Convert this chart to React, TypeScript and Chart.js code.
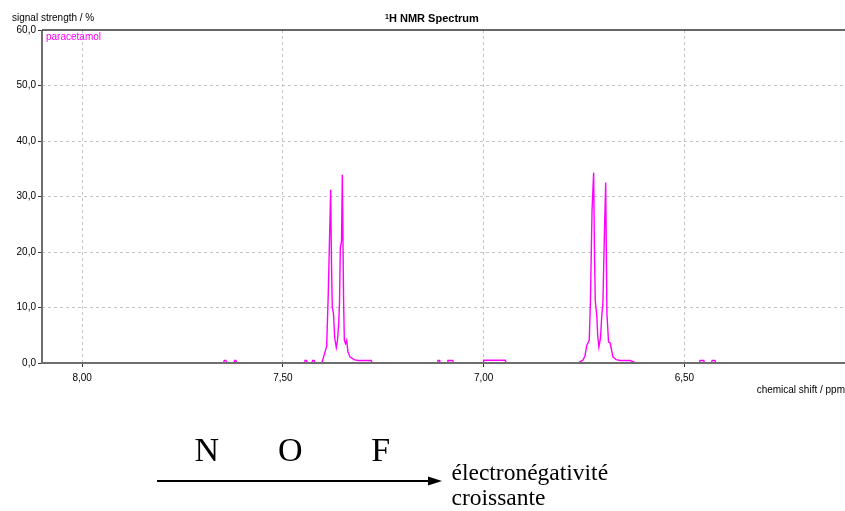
import React, { useEffect, useRef } from 'react';
import { Chart, registerables } from 'chart.js';

Chart.register(...registerables);

// ---- data ----
const shiftPpm = [
  8.100, 7.648, 7.646, 7.642, 7.640, 7.622, 7.620, 7.617, 7.615,
  7.447, 7.445, 7.441, 7.439, 7.428, 7.426, 7.422, 7.420,
  7.403, 7.395, 7.391, 7.387, 7.384, 7.381, 7.379, 7.377, 7.374, 7.371, 7.367,
  7.364, 7.361, 7.359, 7.357, 7.354, 7.352, 7.349, 7.347, 7.344, 7.341, 7.338,
  7.333, 7.323, 7.313, 7.303, 7.280, 7.278,
  7.116, 7.114, 7.110, 7.108, 7.091, 7.089, 7.077, 7.075,
  7.001, 7.000, 6.946, 6.944,
  6.765, 6.753, 6.748, 6.743, 6.737, 6.734, 6.730, 6.726, 6.724, 6.722, 6.718,
  6.716, 6.713, 6.709, 6.706, 6.703, 6.699, 6.696, 6.693, 6.689, 6.685, 6.678,
  6.670, 6.660, 6.635, 6.621,
  6.463, 6.461, 6.452, 6.450, 6.433, 6.431, 6.424, 6.422, 6.100,
];
const signalPct = [
  0, 0, 0.45, 0.45, 0, 0, 0.45, 0.45, 0,
  0, 0.45, 0.45, 0, 0, 0.45, 0.45, 0,
  0, 2.0, 3.0, 12.5, 22.0, 31.2, 18.0, 10.1, 8.9, 4.5, 2.8,
  4.1, 7.2, 10.8, 20.7, 22.0, 33.9, 12.0, 4.1, 3.5, 4.1, 2.0,
  1.1, 0.6, 0.45, 0.45, 0.45, 0,
  0, 0.45, 0.45, 0, 0, 0.45, 0.45, 0,
  0, 0.5, 0.5, 0,
  0, 0.5, 1.2, 3.2, 4.1, 11.3, 27.6, 34.3, 20.0, 11.3, 8.3,
  5.0, 2.9, 4.5, 8.3, 10.8, 24.0, 32.5, 9.0, 3.8, 3.6, 1.1,
  0.6, 0.45, 0.45, 0,
  0, 0.45, 0.45, 0, 0, 0.45, 0.45, 0, 0,
];
const xTickValues = [8.0, 7.5, 7.0, 6.5];
const yTickValues = [0, 10, 20, 30, 40, 50, 60];
const seriesName = 'paracetamol';
const titleSup = '1';
const titleText = 'H NMR Spectrum';
const yAxisTitle = 'signal strength / %';
const xAxisTitle = 'chemical shift / ppm';
const elementSymbols = ['N', 'O', 'F'];
const arrowCaption = ['électronégativité', 'croissante'];

const SANS = "'Liberation Sans', Arial, sans-serif";
const SERIF = "'Liberation Serif', 'Times New Roman', serif";
const MAGENTA = '#ff00ff';

const annotate = {
  id: 'annotate',
  afterDatasetsDraw(chart: any) {
    const { ctx, chartArea } = chart;
    const { left, right, top, bottom } = chartArea;
    ctx.save();
    ctx.setLineDash([]);
    ctx.strokeStyle = '#6e6e6e';
    ctx.lineWidth = 2;
    ctx.beginPath();
    ctx.moveTo(left, top);
    ctx.lineTo(left, bottom + 1);
    ctx.moveTo(left, bottom);
    ctx.lineTo(right, bottom);
    ctx.stroke();
    ctx.strokeStyle = '#333';
    ctx.lineWidth = 1.5;
    ctx.beginPath();
    ctx.moveTo(left, top);
    ctx.lineTo(right, top);
    ctx.stroke();

    ctx.fillStyle = '#000';
    ctx.textBaseline = 'alphabetic';
    ctx.textAlign = 'left';
    ctx.font = `10px ${SANS}`;
    ctx.fillText(yAxisTitle, 12, 21);
    ctx.textAlign = 'right';
    ctx.fillText(xAxisTitle, 845, 393);
    ctx.textAlign = 'left';
    ctx.font = `bold 7px ${SANS}`;
    ctx.fillText(titleSup, 385, 18.5);
    ctx.font = `bold 11px ${SANS}`;
    ctx.fillText(titleText, 389, 22);
    ctx.fillStyle = MAGENTA;
    ctx.font = `10px ${SANS}`;
    ctx.fillText(seriesName, 46, 40);
    ctx.restore();
  },
};

export default function App() {
  const ref = useRef<HTMLCanvasElement>(null);

  useEffect(() => {
    const points = shiftPpm.map((x, i) => ({ x, y: signalPct[i] }));
    const chart = new Chart(ref.current as HTMLCanvasElement, {
      type: 'line',
      data: {
        datasets: [
          {
            label: seriesName,
            data: points,
            borderColor: MAGENTA,
            backgroundColor: MAGENTA,
            borderWidth: 1.4,
            pointRadius: 0,
            tension: 0,
            fill: false,
          },
        ],
      },
      options: {
        animation: false,
        responsive: false,
        devicePixelRatio: 1,
        layout: { padding: { left: 0, right: 0, top: 30, bottom: 0 } },
        plugins: {
          legend: { display: false },
          title: { display: false },
          tooltip: { enabled: false },
        },
        scales: {
          x: {
            type: 'linear',
            reverse: true,
            min: 6.1,
            max: 8.1,
            afterBuildTicks: (s: any) => {
              s.ticks = xTickValues.map((v) => ({ value: v }));
            },
            afterFit: (s: any) => {
              s.height = 37;
            },
            ticks: {
              color: '#000',
              padding: 5,
              maxRotation: 0,
              font: { family: SANS, size: 10 },
              callback: (v: any) => Number(v).toFixed(2).replace('.', ','),
            },
            grid: {
              color: '#c4c4c4',
              lineWidth: 1,
              tickLength: 4,
              tickColor: '#333',
              drawTicks: true,
            },
            border: { display: false, dash: [3, 3] },
          },
          y: {
            type: 'linear',
            min: 0,
            max: 60,
            afterBuildTicks: (s: any) => {
              s.ticks = yTickValues.map((v) => ({ value: v }));
            },
            afterFit: (s: any) => {
              s.width = 42;
            },
            ticks: {
              color: '#000',
              padding: 2,
              font: { family: SANS, size: 10 },
              callback: (v: any) => Number(v).toFixed(1).replace('.', ','),
            },
            grid: {
              color: (c: any) =>
                c.tick && (c.tick.value === 0 || c.tick.value === 60) ? 'rgba(0,0,0,0)' : '#c4c4c4',
              lineWidth: 1,
              tickLength: 4,
              tickColor: '#333',
              drawTicks: true,
            },
            border: { display: false, dash: [3, 3] },
          },
        },
      },
      plugins: [annotate],
    } as any);
    return () => chart.destroy();
  }, []);

  return (
    <div
      style={{
        position: 'absolute',
        left: 0,
        top: 0,
        width: 845,
        height: 511,
        background: '#fff',
        overflow: 'hidden',
      }}
    >
      <canvas
        ref={ref}
        width={845}
        height={400}
        style={{ position: 'absolute', left: 0, top: 0, width: 845, height: 400, display: 'block' }}
      />
      <svg
        width={845}
        height={511}
        style={{ position: 'absolute', left: 0, top: 0, pointerEvents: 'none' }}
      >
        <text x={194.6} y={461} fontFamily={SERIF} fontSize={34} fill="#000">
          {elementSymbols[0]}
        </text>
        <text x={278.1} y={461} fontFamily={SERIF} fontSize={34} fill="#000">
          {elementSymbols[1]}
        </text>
        <text x={371.3} y={461} fontFamily={SERIF} fontSize={34} fill="#000">
          {elementSymbols[2]}
        </text>
        <line x1={157} y1={481} x2={430} y2={481} stroke="#000" strokeWidth={2} />
        <polygon points="428,476.5 442,481 428,485.5" fill="#000" />
        <text x={451.5} y={480} fontFamily={SERIF} fontSize={23.5} fill="#000">
          {arrowCaption[0]}
        </text>
        <text x={451.5} y={505} fontFamily={SERIF} fontSize={23.5} fill="#000">
          {arrowCaption[1]}
        </text>
      </svg>
    </div>
  );
}
